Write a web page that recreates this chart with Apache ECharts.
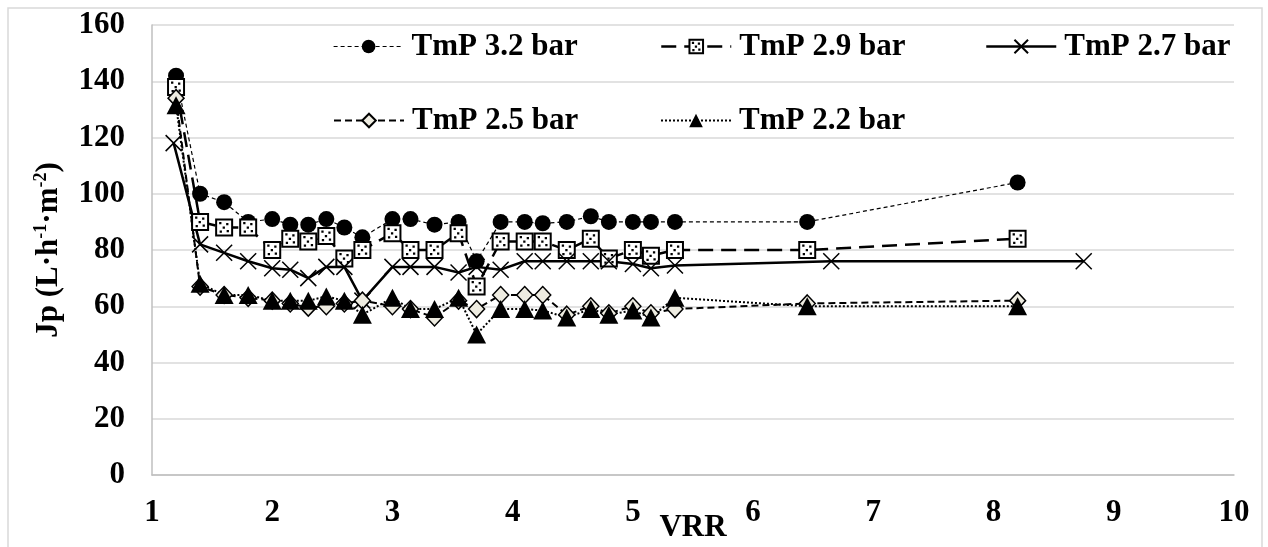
<!DOCTYPE html>
<html>
<head>
<meta charset="utf-8">
<style>
  html, body { margin: 0; padding: 0; background: #fff; }
  #chart { width: 1268px; height: 547px; }
</style>
<script src="https://cdn.jsdelivr.net/npm/echarts@6/dist/echarts.min.js"></script>
</head>
<body>
<div id="chart"></div>
<script>
// VRR sampling points (shared by most runs)
const vrr = [1.2, 1.4, 1.6, 1.8, 2.0, 2.15, 2.3, 2.45, 2.6, 2.75, 3.0, 3.15, 3.35, 3.55, 3.7, 3.9, 4.1, 4.25, 4.45, 4.65, 4.8, 5.0, 5.15, 5.35, 6.45, 8.2];
// VRR sampling points for the 2.7 bar run
const vrr27 = [1.18, 1.4, 1.6, 1.8, 2.0, 2.15, 2.3, 2.45, 2.6, 2.75, 3.0, 3.15, 3.35, 3.55, 3.7, 3.9, 4.1, 4.25, 4.45, 4.65, 4.8, 5.0, 5.15, 5.35, 6.65, 8.75];

// Permeate flux Jp (L·h-1·m-2) per transmembrane pressure
const jp32 = [142, 100, 97, 90, 91, 89, 89, 91, 88, 84.5, 91, 91, 89, 90, 76, 90, 90, 89.5, 90, 92, 90, 90, 90, 90, 90, 104];
const jp29 = [138, 90, 88, 88, 80, 84, 83, 85, 77, 80, 86, 80, 80, 86, 67, 83, 83, 83, 80, 84, 77, 80, 78, 80, 80, 84];
const jp27 = [118, 82, 79, 76, 73.5, 73, 70, 74, 74, 62, 74, 74, 74, 72, 74, 73, 76, 76, 76, 76, 76, 75, 73.5, 74.5, 76, 76];
const jp25 = [134, 67, 64, 63, 62, 61, 59.5, 60, 61, 62, 60, 59, 56, 62, 59, 64, 64, 64, 57, 60, 57.5, 60, 57.5, 59, 61, 62];
const jp22 = [131.5, 68, 64, 64, 62, 62, 62, 63.5, 62, 57, 63, 59, 59, 63, 50, 59, 59, 58.5, 56, 59, 57, 58.5, 56, 63, 60, 60];

const seriesNames = ['TmP 3.2 bar', 'TmP 2.9 bar', 'TmP 2.7 bar', 'TmP 2.5 bar', 'TmP 2.2 bar'];

const FONT = '"Liberation Serif", "Times New Roman", serif';

function pairs(xs, ys) {
  return xs.map((x, i) => [x, ys[i]]);
}

// Square outline with a few stroked specks inside (speckled square marker)
const speckSquare = 'path://M0,0L16,0L16,16L0,16Z' +
  'M4,3.5h0.3v0.3h-0.3Z' +
  'M11,4.5h0.3v0.3h-0.3Z' +
  'M7.5,8h0.3v0.3h-0.3Z' +
  'M4.5,12h0.3v0.3h-0.3Z' +
  'M11.5,11.5h0.3v0.3h-0.3Z';

const crossPath = 'path://M0,0L20,20M20,0L0,20';

function legendAt(name, left, top, lineWidth) {
  return {
    data: [name],
    left: left,
    top: top,
    padding: 0,
    itemWidth: 70,
    itemHeight: 17,
    itemGap: 0,
    selectedMode: false,
    lineStyle: { width: lineWidth },
    textStyle: { fontFamily: FONT, fontWeight: 'bold', fontSize: 31, color: '#000', padding: [0, 0, 0, 3] }
  };
}

const chart = echarts.init(document.getElementById('chart'), null, { renderer: 'canvas' });

chart.setOption({
  animation: false,
  backgroundColor: '#fff',
  graphic: [{
    type: 'rect',
    silent: true,
    shape: { x: 8, y: 8, width: 1254, height: 600 },
    style: { fill: 'none', stroke: '#d9d9d9', lineWidth: 1.5 }
  }],
  grid: { left: 152, right: 34, top: 25, bottom: 72, containLabel: false, outerBoundsMode: 'none' },
  legend: [
    legendAt(seriesNames[0], 333, 31, 1.2),
    legendAt(seriesNames[1], 660, 31, 2.5),
    legendAt(seriesNames[2], 985, 31, 2.5),
    legendAt(seriesNames[3], 333, 105, 2),
    legendAt(seriesNames[4], 660, 105, 2)
  ],
  xAxis: {
    type: 'value',
    min: 1, max: 10, interval: 1,
    name: 'VRR',
    nameLocation: 'middle',
    nameGap: 37,
    nameMoveOverlap: false,
    nameTextStyle: { fontFamily: FONT, fontWeight: 'bold', fontSize: 31, color: '#000' },
    axisLine: { show: true, onZero: false, lineStyle: { color: '#bfbfbf', width: 1.5 } },
    axisTick: { show: false },
    splitLine: { show: false },
    axisLabel: { margin: 22, fontFamily: FONT, fontWeight: 'bold', fontSize: 31, color: '#000' }
  },
  yAxis: {
    type: 'value',
    min: 0, max: 160, interval: 20,
    name: '{b|Jp (L·h}{s|-1}{b|·m}{s|-2}{b|)}',
    nameLocation: 'middle',
    nameGap: 86,
    nameRotate: 90,
    nameMoveOverlap: false,
    nameTextStyle: {
      rich: {
        b: { fontFamily: FONT, fontWeight: 'bold', fontSize: 31, color: '#000', lineHeight: 34 },
        s: { fontFamily: FONT, fontWeight: 'bold', fontSize: 18, color: '#000', lineHeight: 20, verticalAlign: 'top' }
      }
    },
    axisLine: { show: true, lineStyle: { color: '#bfbfbf', width: 1.5 } },
    axisTick: { show: false },
    splitLine: { show: true, lineStyle: { color: '#d9d9d9', width: 1.5 } },
    axisLabel: { margin: 27, fontFamily: FONT, fontWeight: 'bold', fontSize: 31, color: '#000' }
  },
  series: [
    {
      name: seriesNames[0],
      type: 'line',
      data: pairs(vrr, jp32),
      color: '#000',
      symbol: 'circle',
      symbolSize: 16,
      itemStyle: { color: '#000' },
      lineStyle: { color: '#000', width: 1.2, type: [4, 3] },
      emphasis: { disabled: true }
    },
    {
      name: seriesNames[1],
      type: 'line',
      data: pairs(vrr, jp29),
      color: '#000',
      symbol: speckSquare,
      symbolSize: 16,
      itemStyle: { color: '#fff', borderColor: '#000', borderWidth: 2 },
      lineStyle: { color: '#000', width: 2.5, type: [15, 8] },
      emphasis: { disabled: true }
    },
    {
      name: seriesNames[2],
      type: 'line',
      data: pairs(vrr27, jp27),
      color: '#000',
      symbol: crossPath,
      symbolSize: 16,
      itemStyle: { color: 'none', borderColor: '#000', borderWidth: 1.5 },
      lineStyle: { color: '#000', width: 2.5, type: 'solid' },
      emphasis: { disabled: true }
    },
    {
      name: seriesNames[3],
      type: 'line',
      data: pairs(vrr, jp25),
      color: '#000',
      symbol: 'diamond',
      symbolSize: [16, 17],
      itemStyle: { color: '#EEECE1', borderColor: '#000', borderWidth: 1.5 },
      lineStyle: { color: '#000', width: 2, type: [7, 4] },
      emphasis: { disabled: true }
    },
    {
      name: seriesNames[4],
      type: 'line',
      data: pairs(vrr, jp22),
      color: '#000',
      symbol: 'triangle',
      symbolSize: [19, 18],
      itemStyle: { color: '#000' },
      lineStyle: { color: '#000', width: 2, type: [2, 2] },
      emphasis: { disabled: true }
    }
  ]
});
</script>
</body>
</html>
